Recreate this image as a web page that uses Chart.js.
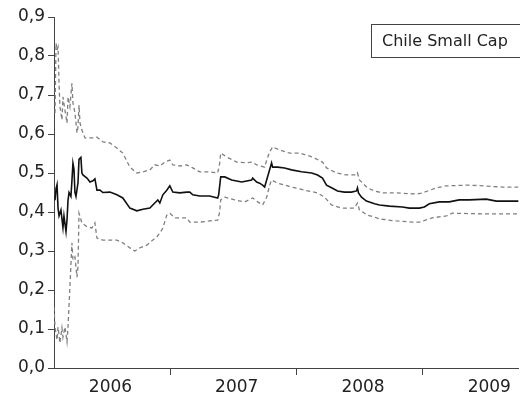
<!DOCTYPE html>
<html>
<head>
<meta charset="utf-8">
<script src="https://cdn.jsdelivr.net/npm/chart.js@4/dist/chart.umd.min.js"></script>
<style>
  html, body { margin: 0; padding: 0; background: #fff; }
  #wrap { position: relative; width: 520px; height: 399px; }
  #legendBox {
    position: absolute; left: 371px; top: 24px; width: 149px; height: 34px;
    box-sizing: border-box; border: 1px solid #444; border-right: none;
    font-family: "DejaVu Sans", sans-serif; font-size: 16px; color: #222;
    line-height: 32px; padding-left: 10px; white-space: nowrap;
  }
</style>
</head>
<body>
<div id="wrap">
  <canvas id="canvas" width="520" height="399"></canvas>
  <div id="legendBox">Chile Small Cap</div>
</div>
<script>
// estimate (solid black)
var estDates = [2006.091, 2006.099, 2006.107, 2006.115, 2006.123, 2006.138, 2006.154, 2006.162, 2006.178, 2006.186,
  2006.194, 2006.202, 2006.217, 2006.225, 2006.233, 2006.241, 2006.249, 2006.257, 2006.273, 2006.281,
  2006.296, 2006.304, 2006.312, 2006.344, 2006.368, 2006.391, 2006.407, 2006.423, 2006.447, 2006.470,
  2006.526, 2006.581, 2006.628, 2006.684, 2006.739, 2006.787, 2006.842, 2006.881, 2006.905, 2006.921,
  2006.945, 2006.976, 2007.000, 2007.024, 2007.079, 2007.134, 2007.158, 2007.182, 2007.237, 2007.316,
  2007.379, 2007.387, 2007.403, 2007.435, 2007.490, 2007.569, 2007.648, 2007.656, 2007.688, 2007.711,
  2007.735, 2007.751, 2007.767, 2007.783, 2007.806, 2007.814, 2007.854, 2007.909, 2007.964, 2008.043,
  2008.123, 2008.170, 2008.209, 2008.241, 2008.281, 2008.328, 2008.383, 2008.439, 2008.478, 2008.486,
  2008.494, 2008.518, 2008.557, 2008.621, 2008.660, 2008.739, 2008.842, 2008.897, 2008.976, 2009.016,
  2009.055, 2009.134, 2009.213, 2009.292, 2009.372, 2009.506, 2009.585, 2009.688, 2009.767];
var estValues = [0.43, 0.46, 0.47, 0.41, 0.39, 0.405, 0.36, 0.39, 0.35, 0.38,
  0.43, 0.45, 0.44, 0.48, 0.525, 0.51, 0.45, 0.44, 0.475, 0.535,
  0.54, 0.50, 0.495, 0.487, 0.477, 0.48, 0.485, 0.456, 0.456, 0.45,
  0.451, 0.444, 0.436, 0.41, 0.403, 0.407, 0.41, 0.423, 0.431, 0.423,
  0.444, 0.456, 0.467, 0.451, 0.449, 0.451, 0.451, 0.444, 0.441, 0.441,
  0.436, 0.444, 0.49, 0.49, 0.482, 0.477, 0.482, 0.487, 0.477, 0.474,
  0.469, 0.464, 0.482, 0.50, 0.526, 0.515, 0.515, 0.513, 0.508, 0.503,
  0.50, 0.495, 0.487, 0.469, 0.462, 0.454, 0.451, 0.451, 0.454, 0.462,
  0.449, 0.438, 0.428, 0.421, 0.418, 0.415, 0.413, 0.41, 0.41, 0.413,
  0.421, 0.426, 0.426, 0.431, 0.431, 0.433, 0.428, 0.428, 0.428];

// upper band (dashed grey)
var upperDates = [2006.091, 2006.099, 2006.107, 2006.115, 2006.123, 2006.130, 2006.146, 2006.154, 2006.170, 2006.186,
  2006.194, 2006.209, 2006.225, 2006.233, 2006.249, 2006.265, 2006.273, 2006.281, 2006.289, 2006.304,
  2006.328, 2006.391, 2006.423, 2006.470, 2006.526, 2006.581, 2006.628, 2006.684, 2006.739, 2006.787,
  2006.842, 2006.881, 2006.921, 2006.960, 2007.000, 2007.024, 2007.079, 2007.134, 2007.182, 2007.237,
  2007.316, 2007.379, 2007.395, 2007.403, 2007.451, 2007.530, 2007.609, 2007.648, 2007.688, 2007.751,
  2007.767, 2007.791, 2007.814, 2007.870, 2007.949, 2008.028, 2008.130, 2008.209, 2008.241, 2008.320,
  2008.399, 2008.478, 2008.486, 2008.502, 2008.565, 2008.621, 2008.684, 2008.794, 2008.953, 2009.000,
  2009.111, 2009.190, 2009.372, 2009.632, 2009.767];
var upperValues = [0.654, 0.833, 0.815, 0.823, 0.73, 0.67, 0.636, 0.695, 0.66, 0.628,
  0.695, 0.67, 0.73, 0.68, 0.654, 0.603, 0.618, 0.674, 0.628, 0.61,
  0.59, 0.59, 0.592, 0.58, 0.577, 0.564, 0.551, 0.515, 0.50, 0.503,
  0.508, 0.521, 0.518, 0.528, 0.533, 0.521, 0.518, 0.521, 0.513, 0.503,
  0.503, 0.50, 0.525, 0.551, 0.541, 0.528, 0.526, 0.528, 0.521, 0.515,
  0.533, 0.554, 0.567, 0.559, 0.551, 0.551, 0.541, 0.528, 0.513, 0.50,
  0.495, 0.495, 0.50, 0.482, 0.462, 0.454, 0.449, 0.449, 0.446, 0.449,
  0.462, 0.467, 0.469, 0.464, 0.464];

// lower band (dashed grey)
var lowerDates = [2006.083, 2006.091, 2006.107, 2006.115, 2006.130, 2006.146, 2006.154, 2006.170, 2006.186, 2006.194,
  2006.209, 2006.225, 2006.233, 2006.249, 2006.265, 2006.273, 2006.281, 2006.304, 2006.344, 2006.383,
  2006.407, 2006.423, 2006.470, 2006.581, 2006.628, 2006.684, 2006.723, 2006.763, 2006.818, 2006.866,
  2006.897, 2006.921, 2006.945, 2006.976, 2007.000, 2007.040, 2007.079, 2007.134, 2007.158, 2007.237,
  2007.316, 2007.379, 2007.395, 2007.403, 2007.435, 2007.514, 2007.593, 2007.656, 2007.696, 2007.735,
  2007.767, 2007.791, 2007.806, 2007.854, 2007.964, 2008.067, 2008.170, 2008.225, 2008.281, 2008.360,
  2008.462, 2008.486, 2008.502, 2008.565, 2008.621, 2008.660, 2008.794, 2008.921, 2008.976, 2009.079,
  2009.190, 2009.237, 2009.506, 2009.767];
var lowerValues = [0.156, 0.105, 0.072, 0.105, 0.064, 0.103, 0.079, 0.105, 0.067, 0.105,
  0.208, 0.321, 0.277, 0.285, 0.233, 0.259, 0.397, 0.372, 0.362, 0.359,
  0.372, 0.333, 0.328, 0.328, 0.321, 0.308, 0.30, 0.308, 0.315, 0.328,
  0.336, 0.346, 0.359, 0.392, 0.397, 0.385, 0.385, 0.385, 0.374, 0.374,
  0.377, 0.379, 0.40, 0.431, 0.438, 0.431, 0.426, 0.436, 0.426, 0.418,
  0.438, 0.469, 0.482, 0.474, 0.464, 0.456, 0.449, 0.438, 0.418, 0.41,
  0.41, 0.423, 0.405, 0.392, 0.387, 0.382, 0.377, 0.374, 0.374, 0.385,
  0.39, 0.397, 0.395, 0.395];

var yearLabels = ['2006', '2007', '2008', '2009'];
var yearLabelPos = [2006.53, 2007.53, 2008.53, 2009.53];
var yearBreaks = [2007, 2008, 2009];
var yTicks = [0, 0.1, 0.2, 0.3, 0.4, 0.5, 0.6, 0.7, 0.8, 0.9];

function pairs(xs, ys) {
  return xs.map(function(x, i) { return { x: x, y: ys[i] }; });
}

var yearTickMarks = {
  id: 'yearTickMarks',
  afterDraw: function(chart) {
    var sx = chart.scales.x, ctx = chart.ctx;
    ctx.save();
    ctx.strokeStyle = '#444';
    ctx.lineWidth = 1;
    yearBreaks.forEach(function(v) {
      var px = Math.round(sx.getPixelForValue(v)) + 0.5;
      ctx.beginPath();
      ctx.moveTo(px, sx.top);
      ctx.lineTo(px, sx.top + 7);
      ctx.stroke();
    });
    ctx.restore();
  }
};

Chart.defaults.font.family = '"DejaVu Sans", sans-serif';
Chart.defaults.color = '#222';

var ctx = document.getElementById('canvas').getContext('2d');
new Chart(ctx, {
  type: 'line',
  data: {
    datasets: [{
      label: 'upper',
      data: pairs(upperDates, upperValues),
      borderColor: '#808080',
      borderWidth: 1.3,
      borderDash: [4, 3],
      pointRadius: 0,
      fill: false
    }, {
      label: 'lower',
      data: pairs(lowerDates, lowerValues),
      borderColor: '#808080',
      borderWidth: 1.3,
      borderDash: [4, 3],
      pointRadius: 0,
      fill: false
    }, {
      label: 'Chile Small Cap',
      data: pairs(estDates, estValues),
      borderColor: '#111',
      borderWidth: 1.6,
      pointRadius: 0,
      fill: false
    }]
  },
  options: {
    responsive: false,
    animation: false,
    layout: { padding: { top: 17, right: 1, left: 0, bottom: 0 } },
    plugins: {
      legend: { display: false },
      tooltip: { enabled: false }
    },
    scales: {
      x: {
        type: 'linear',
        min: 2006.083,
        max: 2009.76,
        afterBuildTicks: function(scale) {
          scale.ticks = yearLabelPos.map(function(v) { return { value: v }; });
        },
        afterFit: function(scale) { scale.height = 31; },
        grid: { display: true, drawOnChartArea: false, drawTicks: false },
        border: { display: true, color: '#444', width: 1 },
        ticks: {
          autoSkip: false,
          maxRotation: 0,
          padding: 9,
          font: { size: 17 },
          callback: function(v, i) { return yearLabels[i]; }
        }
      },
      y: {
        min: 0,
        max: 0.9,
        afterBuildTicks: function(scale) {
          scale.ticks = yTicks.map(function(v) { return { value: v }; });
        },
        afterFit: function(scale) { scale.width = 54; },
        grid: { display: true, drawOnChartArea: false, drawTicks: true, tickLength: 6, color: '#444' },
        border: { display: true, color: '#444', width: 1 },
        ticks: {
          padding: 3,
          font: { size: 17 },
          callback: function(v) { return v.toFixed(1).replace('.', ','); }
        }
      }
    }
  },
  plugins: [yearTickMarks]
});
</script>
</body>
</html>
